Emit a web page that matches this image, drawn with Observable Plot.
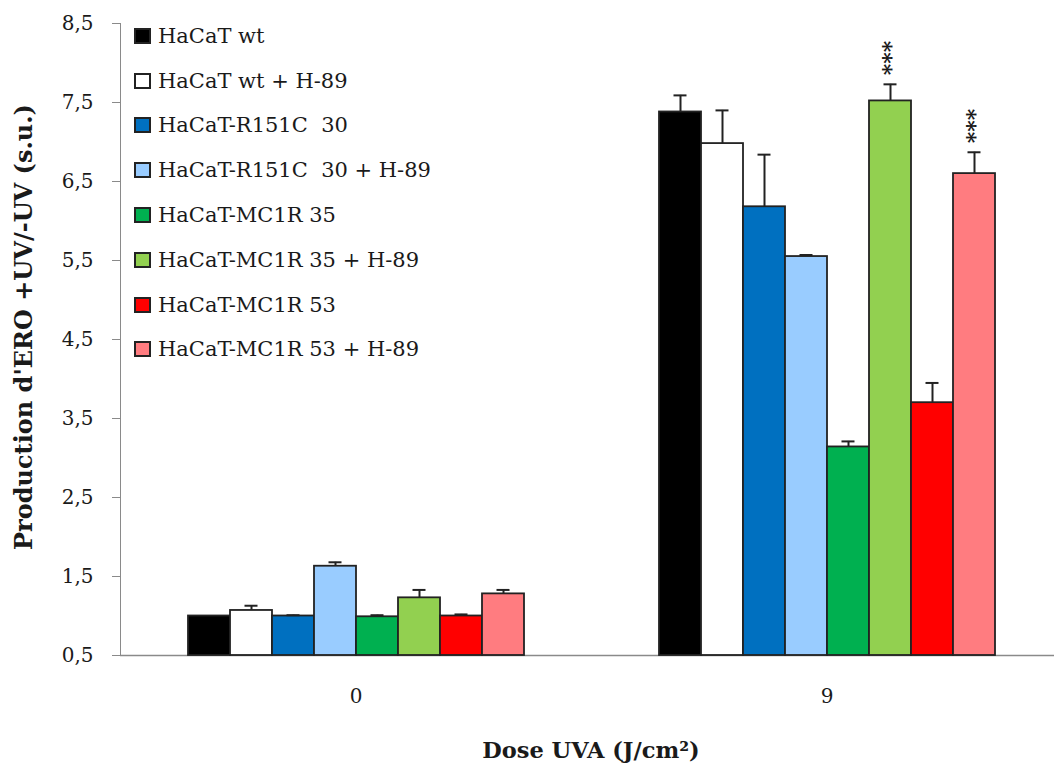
<!DOCTYPE html>
<html>
<head>
<meta charset="utf-8">
<script src="https://cdn.jsdelivr.net/npm/d3@7"></script>
<script src="https://cdn.jsdelivr.net/npm/@observablehq/plot@0.6"></script>
<style>
  html, body { margin: 0; padding: 0; background: #fff; overflow: hidden; }
  #wrap { position: relative; width: 1054px; height: 766px; overflow: hidden; }
  #wrap svg { max-width: none !important; display: block; }
  #wrap svg text { fill: #1a1a1a; }
  .legend { position: absolute; left: 134px; top: 13.5px; font-family: "DejaVu Serif", serif; font-size: 21px; color: #1a1a1a; }
  .legend .row { display: flex; align-items: center; height: 44.8px; white-space: pre; }
  .legend .sw { width: 17px; height: 16px; border: 2px solid #222; box-sizing: border-box; margin-right: 7px; flex: none; }
  .ytitle { position: absolute; left: 23px; top: 327px; transform: translate(-50%, -50%) rotate(-90deg); font-family: "DejaVu Serif", serif; font-weight: bold; font-size: 24px; color: #1a1a1a; white-space: nowrap; }
  .xtitle { position: absolute; left: 591px; top: 750px; transform: translate(-50%, -50%); font-family: "DejaVu Serif", serif; font-weight: bold; font-size: 22.5px; color: #1a1a1a; white-space: nowrap; }
</style>
</head>
<body>
<div id="wrap"></div>
<script>
const doses = ["0", "9"];
const series = [
  "HaCaT wt",
  "HaCaT wt + H-89",
  "HaCaT-R151C  30",
  "HaCaT-R151C  30 + H-89",
  "HaCaT-MC1R 35",
  "HaCaT-MC1R 35 + H-89",
  "HaCaT-MC1R 53",
  "HaCaT-MC1R 53 + H-89"
];
const colors = ["#000000", "#ffffff", "#0070c0", "#99ccff", "#00b050", "#92d050", "#ff0000", "#ff7c80"];
const values0 = [1.00, 1.07, 1.00, 1.63, 0.99, 1.23, 1.00, 1.28];
const errors0 = [0.00, 0.06, 0.01, 0.05, 0.02, 0.10, 0.02, 0.05];
const values9 = [7.38, 6.98, 6.18, 5.55, 3.14, 7.52, 3.70, 6.60];
const errors9 = [0.21, 0.42, 0.66, 0.02, 0.07, 0.21, 0.25, 0.27];
const signif9 = ["", "", "", "", "", "***", "", "***"];
const yTicks = [0.5, 1.5, 2.5, 3.5, 4.5, 5.5, 6.5, 7.5, 8.5];
const yTitle = "Production d'ERO +UV/-UV (s.u.)";
const xTitle = "Dose UVA (J/cm²)";

const data = [];
series.forEach((s, i) => data.push({dose: doses[0], series: s, value: values0[i], err: errors0[i], sig: ""}));
series.forEach((s, i) => data.push({dose: doses[1], series: s, value: values9[i], err: errors9[i], sig: signif9[i]}));

const base = yTicks[0];

const chart = Plot.plot({
  width: 1062,
  height: 766,
  marginLeft: 120,
  marginRight: 0,
  marginTop: 23,
  marginBottom: 111,
  style: {fontFamily: "DejaVu Serif, serif", fontSize: "20px", background: "white", color: "#8a8a8a", overflow: "visible", maxWidth: "none"},
  facet: {data, x: "dose"},
  fx: {domain: doses, padding: 0, axis: "bottom", tickSize: 0, tickPadding: 33, label: null},
  x: {domain: series, axis: null, paddingInner: 0, paddingOuter: 1.5},
  y: {domain: [yTicks[0], yTicks[yTicks.length - 1]], ticks: yTicks, tickFormat: d => d.toFixed(1).replace(".", ","), tickSize: 8, tickPadding: 19, line: true, label: null},
  color: {domain: series, range: colors},
  marks: [
    Plot.ruleY([base], {stroke: "#8a8a8a", strokeWidth: 1.5}),
    Plot.ruleX(data, {x: "series", y1: "value", y2: d => d.value + d.err, stroke: "#222", strokeWidth: 2, filter: d => d.err > 0}),
    Plot.barY(data, {x: "series", y1: base, y2: "value", fill: "series", stroke: "#222", strokeWidth: 1.8, inset: 0}),
    Plot.tickY(data, {x: "series", y: d => d.value + d.err, stroke: "#222", strokeWidth: 2, inset: 14.5, filter: d => d.err > 0}),
    Plot.text(data, {x: "series", y: d => d.value + d.err, text: "sig", rotate: -90, textAnchor: "start", dy: -9, fontSize: 22, fontWeight: "bold", fill: "#1a1a1a", filter: d => d.sig !== ""})
  ]
});

const wrap = document.getElementById("wrap");
wrap.appendChild(chart);

const legend = document.createElement("div");
legend.className = "legend";
series.forEach((s, i) => {
  const row = document.createElement("div");
  row.className = "row";
  const sw = document.createElement("span");
  sw.className = "sw";
  sw.style.background = colors[i];
  const lab = document.createElement("span");
  lab.textContent = s;
  row.appendChild(sw);
  row.appendChild(lab);
  legend.appendChild(row);
});
wrap.appendChild(legend);

const yt = document.createElement("div");
yt.className = "ytitle";
yt.textContent = yTitle;
wrap.appendChild(yt);

const xt = document.createElement("div");
xt.className = "xtitle";
xt.textContent = xTitle;
wrap.appendChild(xt);
</script>
</body>
</html>
